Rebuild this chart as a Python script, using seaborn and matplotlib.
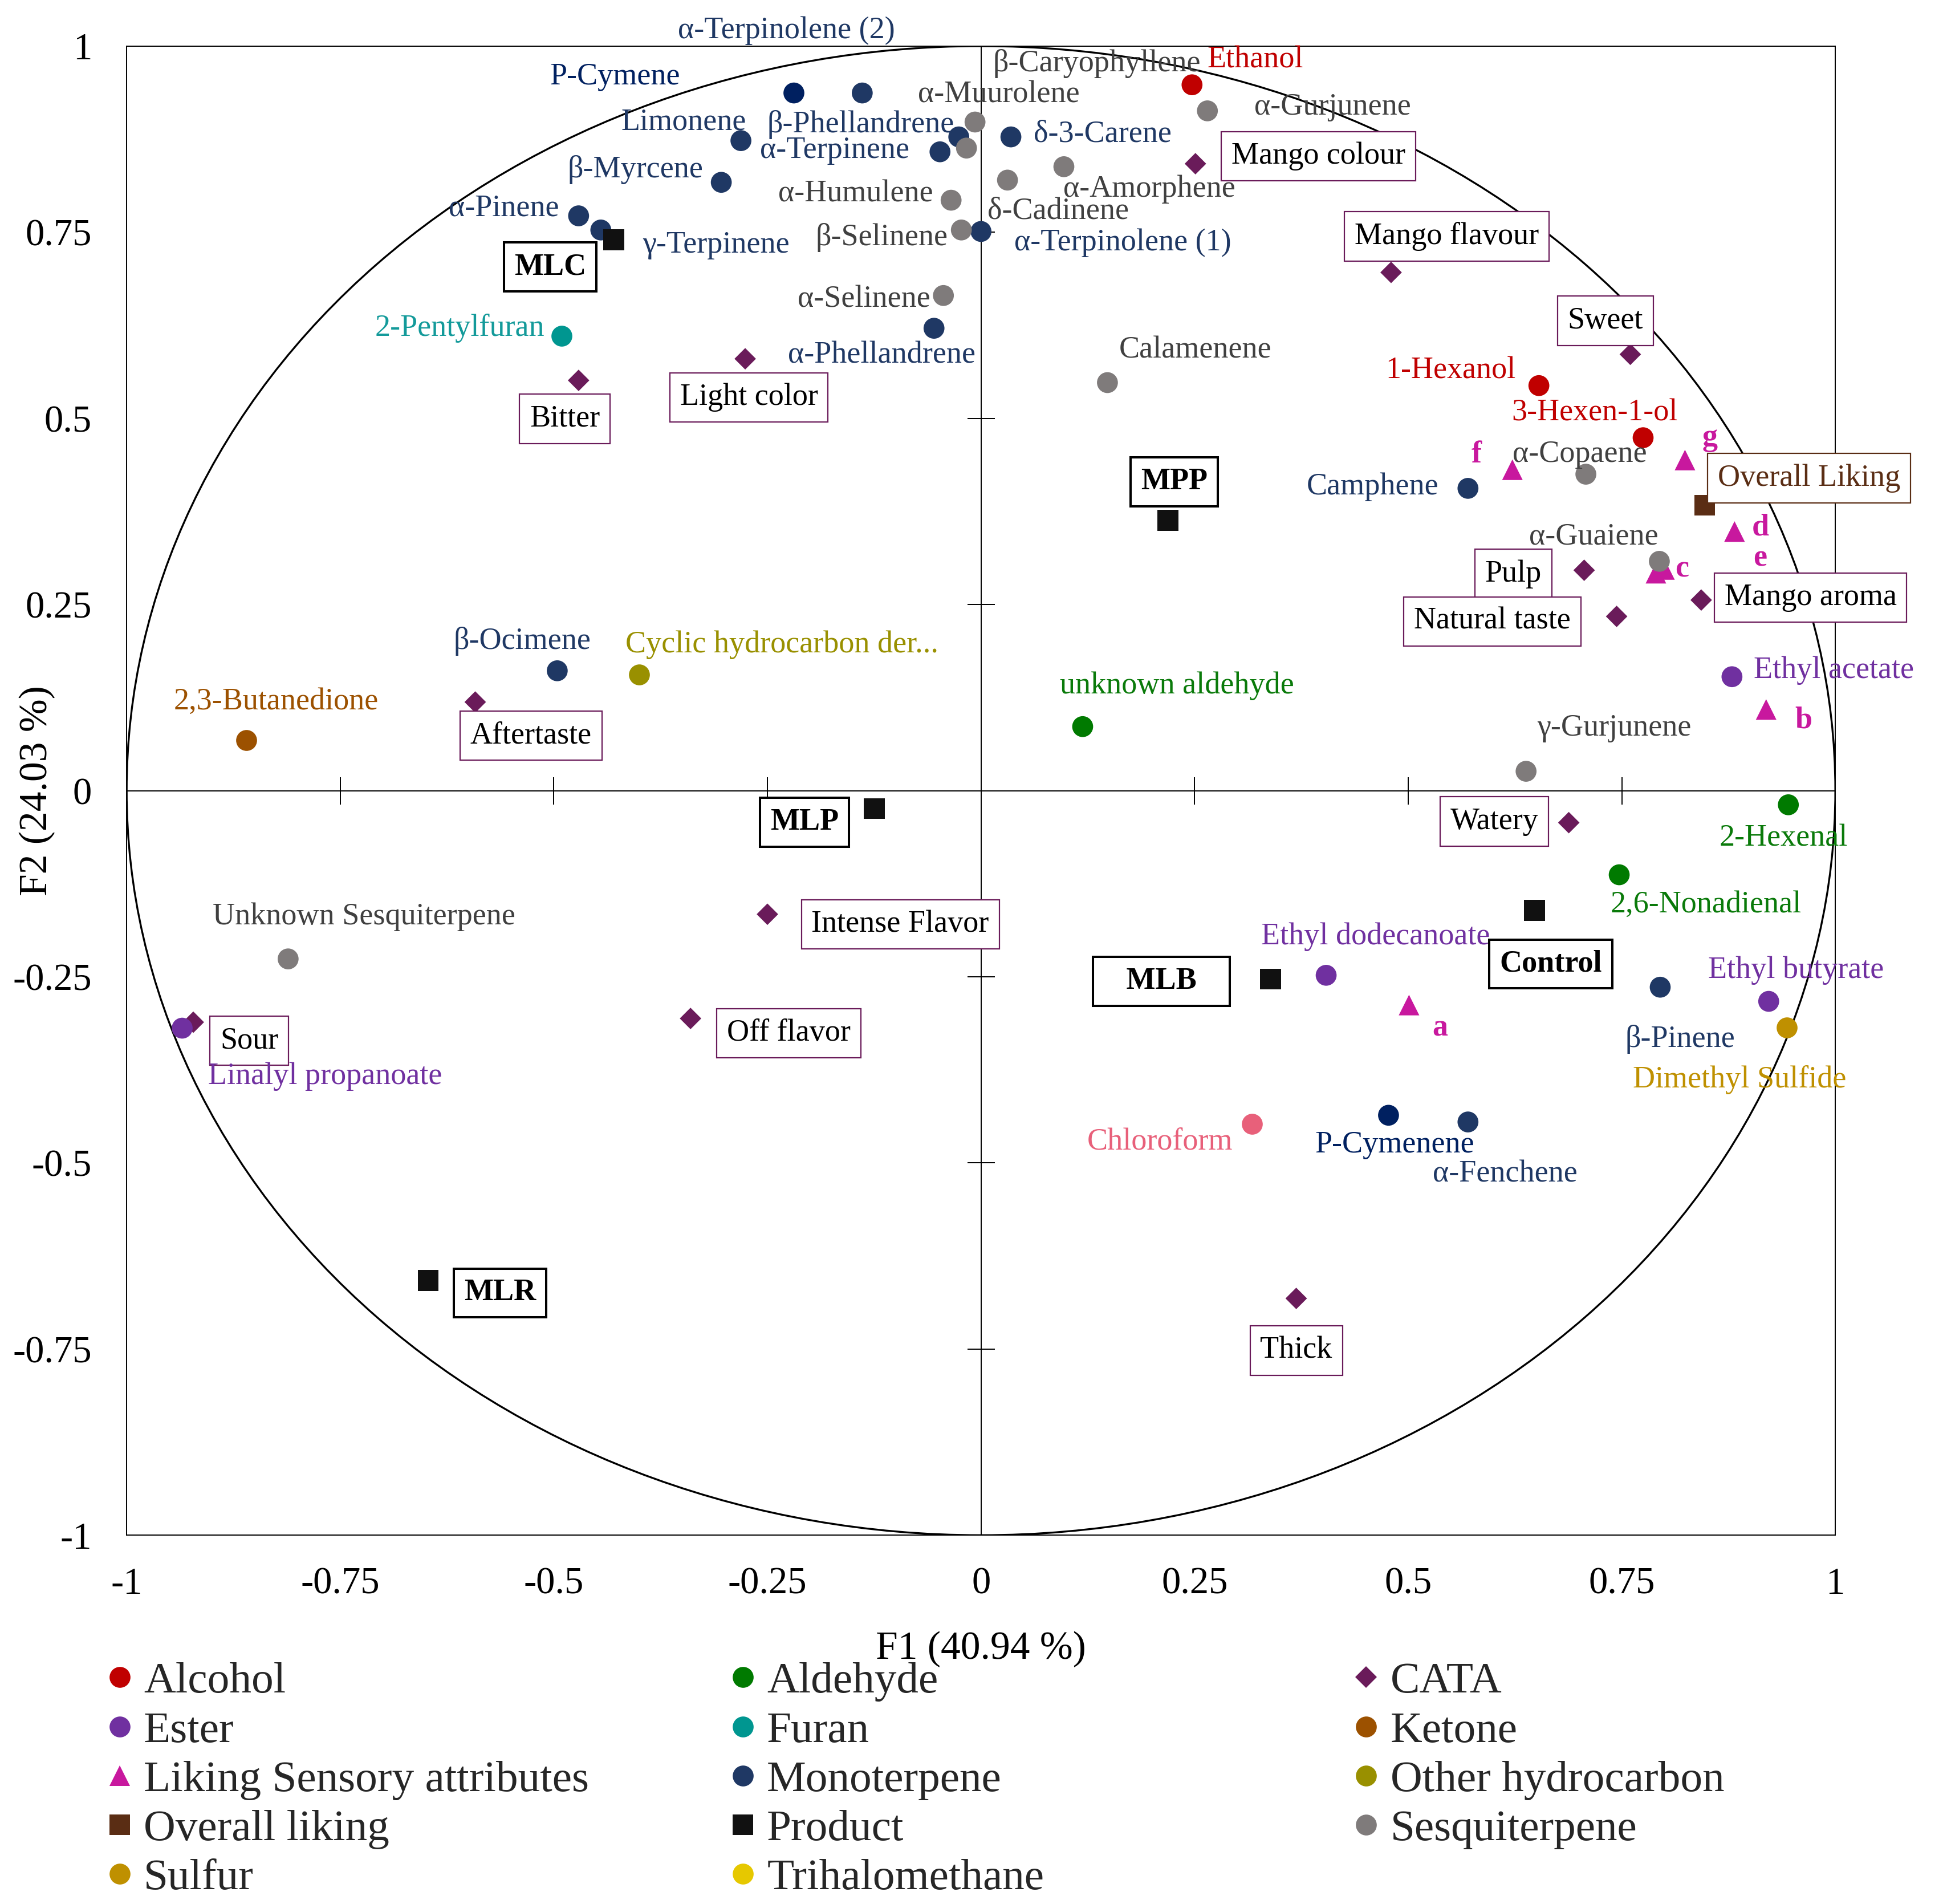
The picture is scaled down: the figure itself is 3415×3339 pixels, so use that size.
import numpy as np
import pandas as pd
import matplotlib
matplotlib.use("Agg")
import matplotlib.pyplot as plt
import seaborn as sns
from matplotlib.lines import Line2D
from matplotlib.patches import Circle

# ---------------- data (F1, F2 loadings / scores) ----------------
alcohol_names = ["Ethanol", "1-Hexanol", "3-Hexen-1-ol"]
alcohol_f1 = [0.247, 0.653, 0.775]
alcohol_f2 = [0.948, 0.544, 0.474]

aldehyde_names = ["unknown aldehyde", "2-Hexenal", "2,6-Nonadienal"]
aldehyde_f1 = [0.119, 0.945, 0.747]
aldehyde_f2 = [0.086, -0.019, -0.113]

cata_names = ["Mango colour", "Mango flavour", "Sweet", "Light color", "Bitter", "Pulp",
              "Natural taste", "Mango aroma", "Aftertaste", "Watery", "Intense Flavor",
              "Off flavor", "Sour", "Thick"]
cata_f1 = [0.251, 0.480, 0.760, -0.276, -0.471, 0.706, 0.744, 0.843, -0.592, 0.688,
           -0.250, -0.340, -0.922, 0.369]
cata_f2 = [0.842, 0.696, 0.586, 0.580, 0.551, 0.296, 0.234, 0.256, 0.119, -0.043,
           -0.166, -0.306, -0.311, -0.682]

ester_names = ["Ethyl acetate", "Ethyl dodecanoate", "Ethyl butyrate", "Linalyl propanoate"]
ester_f1 = [0.879, 0.404, 0.922, -0.935]
ester_f2 = [0.153, -0.248, -0.283, -0.319]

furan_names = ["2-Pentylfuran"]
furan_f1 = [-0.491]
furan_f2 = [0.611]

ketone_names = ["2,3-Butanedione"]
ketone_f1 = [-0.860]
ketone_f2 = [0.068]

liking_names = ["a", "b", "c", "d", "e", "f", "g"]
liking_f1 = [0.501, 0.919, 0.790, 0.882, 0.800, 0.622, 0.824]
liking_f2 = [-0.288, 0.109, 0.292, 0.348, 0.297, 0.431, 0.444]

mono_names = ["P-Cymene", "α-Terpinolene (2)", "Limonene", "β-Phellandrene", "α-Terpinene",
              "δ-3-Carene", "β-Myrcene", "α-Pinene", "γ-Terpinene", "α-Terpinolene (1)",
              "α-Phellandrene", "Camphene", "β-Ocimene", "β-Pinene", "P-Cymenene", "α-Fenchene"]
mono_f1 = [-0.219, -0.139, -0.281, -0.026, -0.048, 0.035, -0.304, -0.471, -0.445, 0.000,
           -0.055, 0.570, -0.496, 0.795, 0.477, 0.570]
mono_f2 = [0.937, 0.937, 0.873, 0.878, 0.858, 0.878, 0.817, 0.772, 0.753, 0.751,
           0.621, 0.406, 0.161, -0.264, -0.436, -0.445]

otherhc_names = ["Cyclic hydrocarbon der..."]
otherhc_f1 = [-0.400]
otherhc_f2 = [0.156]

overall_names = ["Overall Liking"]
overall_f1 = [0.847]
overall_f2 = [0.383]

product_names = ["MLC", "MPP", "MLP", "Control", "MLB", "MLR"]
product_f1 = [-0.430, 0.219, -0.125, 0.648, 0.339, -0.647]
product_f2 = [0.740, 0.363, -0.024, -0.161, -0.253, -0.658]

sesq_names = ["α-Muurolene", "β-Caryophyllene", "δ-Cadinene", "α-Amorphene", "α-Gurjunene",
              "α-Humulene", "β-Selinene", "α-Selinene", "Calamenene", "α-Copaene",
              "α-Guaiene", "γ-Gurjunene", "Unknown Sesquiterpene"]
sesq_f1 = [-0.007, -0.017, 0.031, 0.097, 0.265, -0.035, -0.023, -0.044, 0.148, 0.708,
           0.794, 0.638, -0.811]
sesq_f2 = [0.898, 0.863, 0.820, 0.838, 0.913, 0.793, 0.753, 0.665, 0.548, 0.425,
           0.308, 0.026, -0.226]

sulfur_names = ["Dimethyl Sulfide"]
sulfur_f1 = [0.943]
sulfur_f2 = [-0.318]

trihalo_names = ["Chloroform"]
trihalo_f1 = [0.317]
trihalo_f2 = [-0.448]

legend_order = ["Alcohol", "Ester", "Liking Sensory attributes", "Overall liking", "Sulfur",
                "Aldehyde", "Furan", "Monoterpene", "Product", "Trihalomethane",
                "CATA", "Ketone", "Other hydrocarbon", "Sesquiterpene"]

tick_vals = [-1, -0.75, -0.5, -0.25, 0, 0.25, 0.5, 0.75, 1]
tick_labels = ["-1", "-0.75", "-0.5", "-0.25", "0", "0.25", "0.5", "0.75", "1"]

# ---------------- build table ----------------
groups = [
    ("Alcohol", alcohol_names, alcohol_f1, alcohol_f2),
    ("Aldehyde", aldehyde_names, aldehyde_f1, aldehyde_f2),
    ("CATA", cata_names, cata_f1, cata_f2),
    ("Ester", ester_names, ester_f1, ester_f2),
    ("Furan", furan_names, furan_f1, furan_f2),
    ("Ketone", ketone_names, ketone_f1, ketone_f2),
    ("Liking Sensory attributes", liking_names, liking_f1, liking_f2),
    ("Monoterpene", mono_names, mono_f1, mono_f2),
    ("Other hydrocarbon", otherhc_names, otherhc_f1, otherhc_f2),
    ("Overall liking", overall_names, overall_f1, overall_f2),
    ("Product", product_names, product_f1, product_f2),
    ("Sesquiterpene", sesq_names, sesq_f1, sesq_f2),
    ("Sulfur", sulfur_names, sulfur_f1, sulfur_f2),
    ("Trihalomethane", trihalo_names, trihalo_f1, trihalo_f2),
]
rows = []
for g, names, f1, f2 in groups:
    for n, a, b in zip(names, f1, f2):
        rows.append({"group": g, "name": n, "F1": a, "F2": b})
df = pd.DataFrame(rows)

# ---------------- styles ----------------
marker_color = {"Alcohol": "#C00000", "Aldehyde": "#007A00", "CATA": "#6A1B5A",
                "Ester": "#7030A0", "Furan": "#009690", "Ketone": "#9C5100",
                "Liking Sensory attributes": "#C8189E", "Monoterpene": "#1F3864",
                "Other hydrocarbon": "#999000", "Overall liking": "#5A2D14",
                "Product": "#111111", "Sesquiterpene": "#7F7B7B", "Sulfur": "#BF9000",
                "Trihalomethane": "#E6C800"}
label_color = {"Alcohol": "#C00000", "Aldehyde": "#0A7A0A", "CATA": "black",
               "Ester": "#7030A0", "Furan": "#139A9A", "Ketone": "#9C5100",
               "Liking Sensory attributes": "#C8189E", "Monoterpene": "#1F3864",
               "Other hydrocarbon": "#999000", "Overall liking": "#5A2D14",
               "Product": "black", "Sesquiterpene": "#404040", "Sulfur": "#BF9000",
               "Trihalomethane": "#E8607A"}
point_color_override = {"P-Cymene": "#002060", "P-Cymenene": "#002060", "Chloroform": "#E8607A"}
label_color_override = {"P-Cymene": "#002060", "P-Cymenene": "#002060"}
marker_shape = {"CATA": "D", "Liking Sensory attributes": "^", "Overall liking": "s", "Product": "s"}
marker_size_pt = {"D": 9.6, "^": 13.0, "s": 13.2, "o": 13.2}

# label offsets (reference px; +x right, +y down)
label_off = {
    "Ethanol": (51, -20), "1-Hexanol": (-71, -12), "3-Hexen-1-ol": (-39, -20),
    "unknown aldehyde": (76, -33), "2-Hexenal": (-4, 27), "2,6-Nonadienal": (70, 24),
    "Ethyl acetate": (82, -5), "Ethyl dodecanoate": (40, -31), "Ethyl butyrate": (22, -25),
    "Linalyl propanoate": (115, 39), "2-Pentylfuran": (-82, -6), "2,3-Butanedione": (24, -31),
    "Cyclic hydrocarbon der...": (115, -24), "Dimethyl Sulfide": (-38, 42),
    "Chloroform": (-74, 14),
    "P-Cymene": (-144, -13), "α-Terpinolene (2)": (-61, -50), "Limonene": (-46, -15),
    "β-Phellandrene": (-79, -10), "α-Terpinene": (-85, -1), "δ-3-Carene": (74, -2),
    "β-Myrcene": (-69, -10), "α-Pinene": (-60, -6), "γ-Terpinene": (93, 12),
    "α-Terpinolene (1)": (114, 9), "α-Phellandrene": (-42, 22), "Camphene": (-77, -1),
    "β-Ocimene": (-28, -24), "β-Pinene": (16, 42), "P-Cymenene": (5, 24), "α-Fenchene": (30, 42),
    "α-Muurolene": (19, -22), "β-Caryophyllene": (105, -68), "δ-Cadinene": (41, 25),
    "α-Amorphene": (69, 18), "α-Gurjunene": (101, -3), "α-Humulene": (-77, -5),
    "β-Selinene": (-64, 6), "α-Selinene": (-64, 3), "Calamenene": (71, -26),
    "α-Copaene": (-5, -16), "α-Guaiene": (-53, -20), "γ-Gurjunene": (71, -35),
    "Unknown Sesquiterpene": (61, -34),
    "Mango colour": (99, -6), "Mango flavour": (45, -29), "Sweet": (-20, -27),
    "Light color": (3, 31), "Bitter": (-11, 31), "Pulp": (-57, 3), "Natural taste": (-100, 4),
    "Mango aroma": (88, -2), "Aftertaste": (45, 27), "Watery": (-60, -1),
    "Intense Flavor": (107, 8), "Off flavor": (79, 12), "Sour": (45, 15), "Thick": (0, 42),
    "f": (-29, -12), "g": (20, -18), "d": (21, -3), "e": (77, -9), "c": (21, -3),
    "b": (30, 9), "a": (25, 19),
    "Overall Liking": (84, -22),
    "MLC": (-51, 22), "MPP": (5, -31), "MLP": (-56, 11), "Control": (13, 43),
    "MLB": (-88, 2), "MLR": (58, 10),
}
box_side_spaces = {"MLB": 3}
REF2PT = (3415 / 1568) * 72 / 200

# ---------------- figure ----------------
sns.set_theme(style="white")
plt.rcParams["font.family"] = ["Liberation Serif", "DejaVu Serif"]
plt.rcParams["axes.unicode_minus"] = False

fig = plt.figure(figsize=(3415 / 200, 3339 / 200), dpi=200)
ax = fig.add_axes([0.06505, 0.1937, 0.8776, 0.7821])
ax.set_xlim(-1, 1)
ax.set_ylim(-1, 1)

for sp in ax.spines.values():
    sp.set_color("black")
    sp.set_linewidth(0.7)

ax.add_patch(Circle((0, 0), 1, fill=False, edgecolor="black", linewidth=1.2, zorder=1))
ax.axhline(0, color="black", lw=0.7, zorder=1)
ax.axvline(0, color="black", lw=0.7, zorder=1)
inner = [t for t in tick_vals if abs(t) not in (0, 1)]
ax.plot(inner, [0] * len(inner), ls="none", marker="|", ms=17, mew=0.7, color="black", zorder=1)
ax.plot([0] * len(inner), inner, ls="none", marker="_", ms=17, mew=0.7, color="black", zorder=1)

for g in df["group"].unique():
    sub = df[df["group"] == g].copy()
    mk = marker_shape.get(g, "o")
    cols = [point_color_override.get(n, marker_color[g]) for n in sub["name"]]
    sub["col"] = cols
    sns.scatterplot(data=sub, x="F1", y="F2", hue="col", palette={c: c for c in set(cols)},
                    marker=mk, s=marker_size_pt[mk] ** 2, linewidth=0, legend=False,
                    ax=ax, zorder=3)

box_groups = {"CATA": ("#6A1B5A", 0.8), "Product": ("black", 1.45), "Overall liking": ("#5A2D14", 0.8)}
for _, r in df.iterrows():
    g, n = r["group"], r["name"]
    dx, dy = label_off[n]
    kw = dict(textcoords="offset points", xytext=(dx * REF2PT, -dy * REF2PT),
              ha="center", va="center", fontsize=19.5, zorder=4,
              color=label_color_override.get(n, label_color[g]))
    txt = n
    if g in box_groups:
        ec, lw = box_groups[g]
        kw["bbox"] = dict(boxstyle="square,pad=0.33", fc="white", ec=ec, lw=lw)
        sp = " " * box_side_spaces.get(n, 0)
        txt = sp + n + sp
    if g in ("Product", "Liking Sensory attributes"):
        kw["fontweight"] = "bold"
    ax.annotate(txt, (r["F1"], r["F2"]), **kw)

ax.set_xticks(tick_vals)
ax.set_xticklabels(tick_labels)
ax.set_yticks(tick_vals)
ax.set_yticklabels(tick_labels)
ax.tick_params(axis="both", length=0, labelsize=24, colors="black")
ax.tick_params(axis="x", pad=20)
ax.tick_params(axis="y", pad=22)

ax.set_xlabel("F1 (40.94 %)", fontsize=25, color="black")
ax.xaxis.set_label_coords(0.5, (1236 - 1328) / 1199)
ax.xaxis.label.set_va("center")
ax.set_ylabel("F2 (24.03 %)", fontsize=25, color="black")
ax.yaxis.set_label_coords((30 - 102) / 1376, 0.5)
ax.yaxis.label.set_va("center")

# ---------------- legend (three columns) ----------------
def handle(g):
    mk = marker_shape.get(g, "o")
    return Line2D([], [], ls="none", marker=mk, color=marker_color[g],
                  markersize=marker_size_pt[mk], markeredgewidth=0)

col_groups = [legend_order[0:5], legend_order[5:10], legend_order[10:14]]
col_x = [0.0546, 0.3747, 0.6949]
for gs, x in zip(col_groups, col_x):
    fig.legend([handle(g) for g in gs], gs, loc="upper left", bbox_to_anchor=(x, 0.1272),
               frameon=False, fontsize=27.8, borderpad=0, borderaxespad=0,
               handlelength=0.6, handletextpad=0.25, labelspacing=0.21, ncol=1)

fig.savefig("out.png", dpi=200)
